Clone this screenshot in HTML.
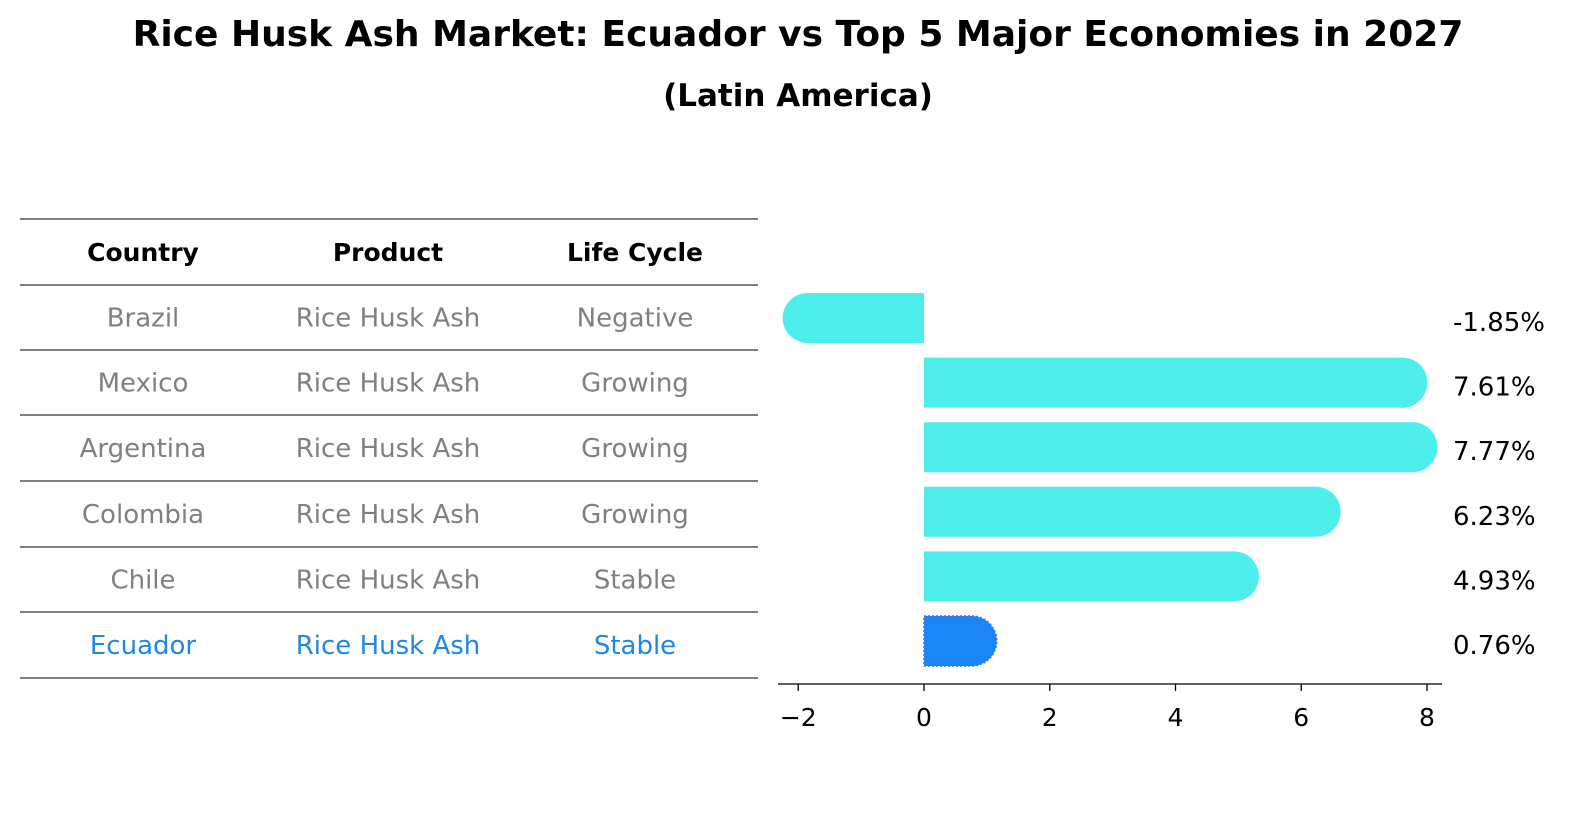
<!DOCTYPE html>
<html><head><meta charset="utf-8"><style>
body{margin:0;width:1596px;height:823px;background:#fff;font-family:"DejaVu Sans","Liberation Sans",sans-serif;overflow:hidden;position:relative}
.t{position:absolute;width:100%;text-align:center;font-weight:bold}
</style></head><body>
<div class="t" style="top:14px;font-size:36px;left:0">Rice Husk Ash Market: Ecuador vs Top 5 Major Economies in 2027</div>
<div class="t" style="top:78px;font-size:31px;left:0">(Latin America)</div>
<svg id="s" width="1596" height="823" style="position:absolute;left:0;top:0"></svg>
<script>
const countries=["Brazil","Mexico","Argentina","Colombia","Chile","Ecuador"];
const products=["Rice Husk Ash","Rice Husk Ash","Rice Husk Ash","Rice Husk Ash","Rice Husk Ash","Rice Husk Ash"];
const lifeCycles=["Negative","Growing","Growing","Growing","Stable","Stable"];
const growthValues=[-1.85,7.61,7.77,6.23,4.93,0.76];
const valueLabels=["-1.85%","7.61%","7.77%","6.23%","4.93%","0.76%"];
const xTicks=[-2,0,2,4,6,8];
const NS="http://www.w3.org/2000/svg",s=document.getElementById('s');
function mk(t,a,txt){const e=document.createElementNS(NS,t);for(const k in a)e.setAttribute(k,a[k]);if(txt!=null)e.textContent=txt;s.appendChild(e);return e;}
const X=v=>924+v*62.875;
const rowY=i=>318+i*64.6;
const lines=[219,285,350,415,481,547,612,678];
lines.forEach((y,i)=>{const l=mk('line',{x1:20,x2:758,y1:y,y2:y,stroke:'#000','stroke-width':1});

});
const cx=[143,388,635];
["Country","Product","Life Cycle"].forEach((h,j)=>{const t=mk('text',{x:cx[j],y:261,'text-anchor':'middle','font-size':25,'font-weight':'bold',fill:'#000'},h);

});
countries.forEach((c,i)=>{const y=(lines[i+1]+lines[i+2])/2+9;const col=i==5?'#1e88e5':'#808080';
[c,products[i],lifeCycles[i]].forEach((v,j)=>{const t=mk('text',{x:cx[j],y:y,'text-anchor':'middle','font-size':26,fill:col},v);

});});
const h=50,r=25;
growthValues.forEach((v,i)=>{const y0=rowY(i)-h/2;const x0=X(0),x1=X(v);const col=i==5?'#1a86f5':'#4eeeec';
const sign=v>=0?1:-1;
const d=`M${x0},${y0} L${x1},${y0} A${r},${r} 0 0 ${sign>0?1:0} ${x1},${y0+h} L${x0},${y0+h} Z`;
const p=mk('path',{d:d,fill:col});
if(i==5){p.setAttribute('stroke','#3a7ad0');p.setAttribute('stroke-dasharray','2,2');p.setAttribute('stroke-width','1.5');}


const t=mk('text',{x:1453,y:rowY(i)+13,'font-size':26,fill:'#000'},valueLabels[i]);

});
const ax=mk('line',{x1:778,x2:1442,y1:684,y2:684,stroke:'#000','stroke-width':1.3});


xTicks.forEach(v=>{const tk=mk('line',{x1:X(v),x2:X(v),y1:684,y2:691,stroke:'#000','stroke-width':1.3});


const t=mk('text',{x:X(v),y:726,'text-anchor':'middle','font-size':25,fill:'#000'},v<0?'\u2212'+(-v):String(v));

});
</script>
</body></html>
